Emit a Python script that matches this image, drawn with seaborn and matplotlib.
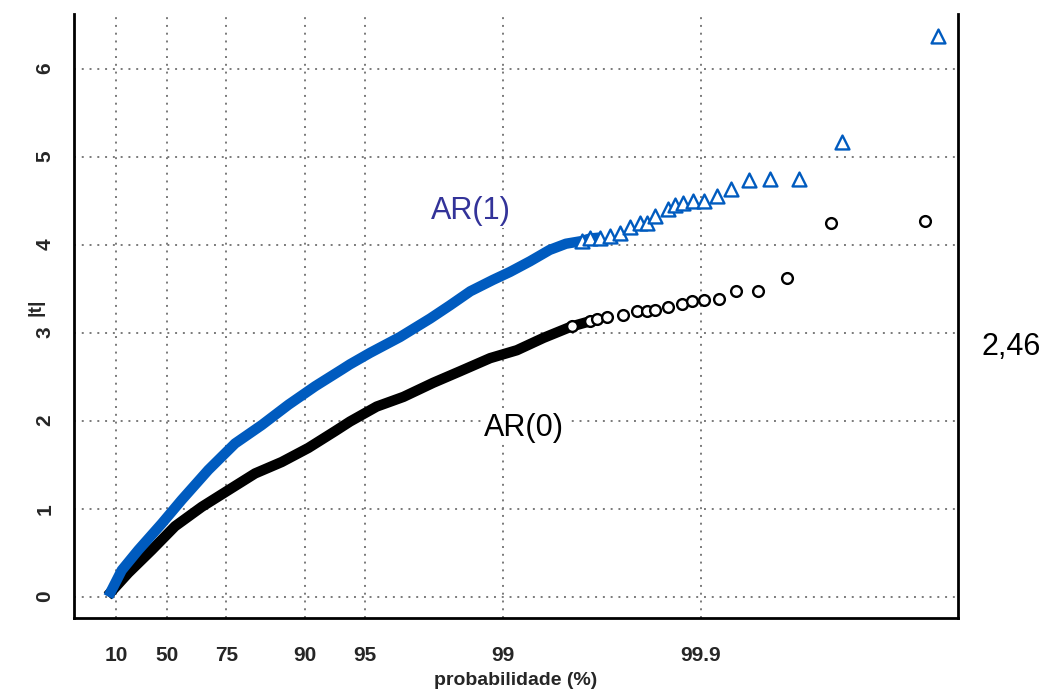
import numpy as np
import pandas as pd
import matplotlib
matplotlib.use("Agg")
import matplotlib.pyplot as plt
import seaborn as sns

# ----------------------------------------------------------
# data (probability %, |t|)
# ----------------------------------------------------------
# AR(1): dense part (band) and sparse tail (triangles)
ar1_band_p = [1.50, 15.72, 30.53, 47.08, 58.07, 69.23, 77.44, 83.47, 87.87,
              91.11, 93.48, 94.08, 95.31, 96.69, 97.67, 98.15, 98.54, 98.88,
              99.08, 99.27, 99.42, 99.52, 99.60, 99.638, 99.677]
ar1_band_t = [0.00, 0.30, 0.53, 0.83, 1.10, 1.44, 1.74, 1.95, 2.18,
              2.39, 2.58, 2.64, 2.77, 2.95, 3.16, 3.31, 3.47, 3.60,
              3.69, 3.81, 3.94, 4.01, 4.04, 4.07, 4.08]
ar1_tail_p = [99.60, 99.638, 99.677, 99.713, 99.744, 99.772, 99.797, 99.8125,
              99.830, 99.8543, 99.8652, 99.8775, 99.891, 99.9038, 99.9167,
              99.9297, 99.9428, 99.9554, 99.9681, 99.9807, 99.99365]
ar1_tail_t = [4.04, 4.07, 4.08, 4.10, 4.13, 4.20, 4.24, 4.24,
              4.32, 4.40, 4.45, 4.47, 4.49, 4.50, 4.55,
              4.63, 4.73, 4.74, 4.74, 5.16, 6.37]

# AR(0): dense part (band) and sparse tail (circles)
ar0_band_p = [0.60, 21.95, 40.55, 54.67, 66.77, 75.62, 82.13, 86.90, 90.39,
              92.95, 94.08, 95.66, 96.82, 97.75, 98.35, 98.84, 99.15, 99.376,
              99.55, 99.638, 99.665]
ar0_band_t = [0.01, 0.27, 0.53, 0.80, 1.02, 1.21, 1.40, 1.53, 1.69,
              1.88, 1.99, 2.16, 2.27, 2.43, 2.56, 2.71, 2.80, 2.94,
              3.07, 3.13, 3.15]
ar0_tail_p = [99.55, 99.638, 99.665, 99.701, 99.754, 99.789, 99.8125, 99.830,
              99.854, 99.875, 99.889, 99.904, 99.9186, 99.9337, 99.9483,
              99.9634, 99.9779, 99.99266]
ar0_tail_t = [3.07, 3.13, 3.15, 3.18, 3.20, 3.24, 3.24, 3.26,
              3.29, 3.33, 3.36, 3.37, 3.38, 3.47, 3.47,
              3.62, 4.25, 4.27]

x_ticks = [10, 50, 75, 90, 95, 99, 99.9]
x_tick_labels = ["10", "50", "75", "90", "95", "99", "99.9"]
y_ticks = [0, 1, 2, 3, 4, 5, 6]

BLUE = "#005BBF"

band1 = pd.DataFrame({"p": ar1_band_p, "t": ar1_band_t})
tail1 = pd.DataFrame({"p": ar1_tail_p, "t": ar1_tail_t})
band0 = pd.DataFrame({"p": ar0_band_p, "t": ar0_band_t})
tail0 = pd.DataFrame({"p": ar0_tail_p, "t": ar0_tail_t})

sns.set_style("white")
plt.rcParams["font.family"] = ["Liberation Sans", "DejaVu Sans"]


# exponential probability scale: x = -ln(1 - p)
def fwd(p):
    p = np.asarray(p, dtype=float)
    return -np.log(np.clip(1.0 - p / 100.0, 1e-12, None))


def inv(e):
    e = np.asarray(e, dtype=float)
    return 100.0 * (1.0 - np.exp(-e))


fig = plt.figure(figsize=(10.47, 6.96), dpi=100)
ax = fig.add_axes([0.0707, 0.1121, 0.8443, 0.8678])

# AR(0) first, AR(1) on top
sns.lineplot(data=band0, x="p", y="t", sort=False, estimator=None, ax=ax,
             color="black", linewidth=7.5, solid_capstyle="butt",
             solid_joinstyle="round", zorder=3)
sns.scatterplot(data=tail0, x="p", y="t", ax=ax, marker="o", s=60,
                facecolor="white", edgecolor="black", linewidth=1.7, zorder=3)
sns.lineplot(data=band1, x="p", y="t", sort=False, estimator=None, ax=ax,
             color=BLUE, linewidth=7.5, solid_capstyle="butt",
             solid_joinstyle="round", zorder=4)
sns.scatterplot(data=tail1, x="p", y="t", ax=ax, marker="^", s=100,
                facecolor="white", edgecolor=BLUE, linewidth=1.7, zorder=4)

ax.set_xscale("function", functions=(fwd, inv))
ax.set_xlim(-46.8, 99.99498)
ax.set_ylim(-0.242, 6.62)

ax.set_xticks(x_ticks)
ax.set_xticklabels(x_tick_labels)
ax.set_yticks(y_ticks)
ax.tick_params(axis="x", length=0, pad=20, labelsize=15)
ax.tick_params(axis="y", length=0, pad=14, labelsize=15, labelrotation=90)
for lab in ax.get_xticklabels() + ax.get_yticklabels():
    lab.set_fontweight("bold")
for lab in ax.get_yticklabels():
    lab.set_verticalalignment("center")

ax.grid(True, color="#7a7a7a", linestyle=(0, (1, 3)), linewidth=1.4, zorder=0)
ax.set_axisbelow(True)

for side in ["left", "bottom", "right"]:
    ax.spines[side].set_color("black")
    ax.spines[side].set_linewidth(2)
ax.spines["top"].set_visible(False)

ax.set_xlabel("probabilidade (%)", fontsize=14, fontweight="bold", labelpad=5)
ax.set_ylabel("|t|", fontsize=14, fontweight="bold")
ax.yaxis.set_label_coords(-0.033, 0.515)

ax.text(98.55, 4.38, "AR(1)", fontsize=22, color="#333399", ha="center",
        va="center", zorder=5,
        bbox=dict(facecolor="white", edgecolor="none", pad=1))
ax.text(99.22, 1.92, "AR(0)", fontsize=22, color="black", ha="center",
        va="center", zorder=5,
        bbox=dict(facecolor="white", edgecolor="none", pad=1))

fig.text(1011 / 1047, 1 - 347 / 696, "2,46", fontsize=22, color="black",
         ha="center", va="center")

fig.savefig("out.png", dpi=100)
